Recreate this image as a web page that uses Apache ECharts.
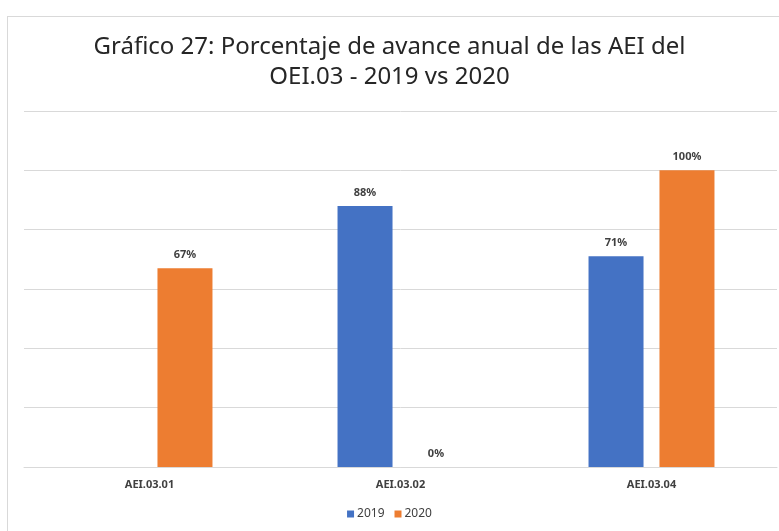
<!DOCTYPE html>
<html>
<head>
<meta charset="utf-8">
<script src="https://cdn.jsdelivr.net/npm/echarts@6/dist/echarts.min.js"></script>
<style>
  html, body { margin: 0; padding: 0; background: #fff; }
  #frame { position: absolute; left: 7px; top: 16px; width: 900px; height: 600px; border: 1px solid #d9d9d9; }
  #main { position: absolute; left: 0; top: 0; width: 779px; height: 531px; }
</style>
</head>
<body>
<div id="frame"></div>
<div id="main"></div>
<script>
var categories = ['AEI.03.01', 'AEI.03.02', 'AEI.03.04'];
var values2019 = [null, 88, 71];
var values2020 = [67, 0, 100];

var myChart = echarts.init(document.getElementById('main'));

var labelStyle = {
    show: true,
    position: 'top',
    distance: 8,
    formatter: '{c}%',
    fontFamily: 'Noto Sans',
    fontWeight: 'bold',
    fontSize: 11,
    color: '#404040'
};

option = {
    backgroundColor: 'transparent',
    title: {
        text: 'Gráfico 27: Porcentaje de avance anual de las AEI del\nOEI.03 - 2019 vs 2020',
        left: 'center',
        top: 27,
        textStyle: {
            fontFamily: 'Noto Sans',
            fontWeight: 'normal',
            fontSize: 24,
            lineHeight: 30,
            color: '#262626'
        }
    },
    legend: {
        bottom: 6,
        left: 'center',
        itemWidth: 7,
        itemHeight: 7,
        itemGap: 10,
        icon: 'rect',
        data: ['2019', '2020'],
        textStyle: {
            fontFamily: 'Noto Sans',
            fontSize: 12,
            color: '#404040',
            padding: [0, 0, 0, -2]
        }
    },
    grid: {
        left: 24,
        right: 2,
        top: 111,
        bottom: 64
    },
    xAxis: {
        type: 'category',
        data: categories,
        axisTick: { show: false },
        axisLine: { lineStyle: { color: '#d9d9d9', width: 1 } },
        axisLabel: {
            margin: 12,
            fontFamily: 'Noto Sans',
            fontWeight: 'bold',
            fontSize: 11,
            color: '#404040'
        }
    },
    yAxis: {
        type: 'value',
        min: 0,
        max: 120,
        interval: 20,
        axisLabel: { show: false },
        axisLine: { show: false },
        axisTick: { show: false },
        splitLine: { lineStyle: { color: '#d9d9d9', width: 1 } }
    },
    series: [
        {
            name: '2019',
            type: 'bar',
            data: values2019,
            barWidth: 55,
            barGap: '29%',
            itemStyle: { color: '#4472C4' },
            label: labelStyle
        },
        {
            name: '2020',
            type: 'bar',
            data: values2020,
            barWidth: 55,
            itemStyle: { color: '#ED7D31' },
            label: labelStyle
        }
    ]
};

myChart.setOption(option);
</script>
</body>
</html>
